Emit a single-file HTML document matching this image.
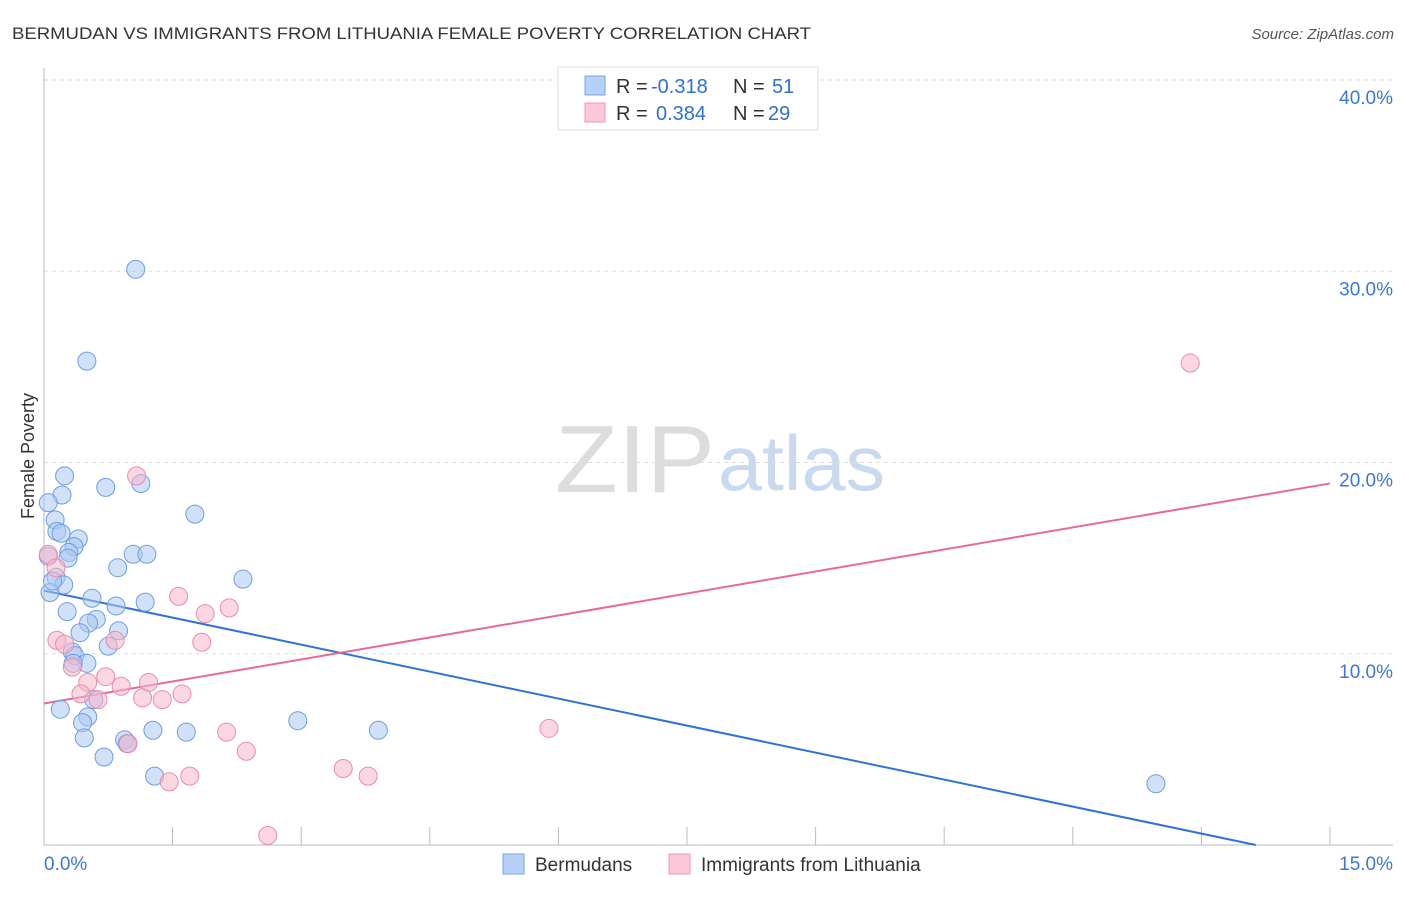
<!DOCTYPE html>
<html><head><meta charset="utf-8">
<style>
body{margin:0;background:#fff;font-family:"Liberation Sans",sans-serif;}
svg text{font-family:"Liberation Sans",sans-serif;}
</style></head>
<body>
<svg id="chart" width="1406" height="892" viewBox="0 0 1406 892" xmlns="http://www.w3.org/2000/svg">
<text x="12" y="39" font-size="17" fill="#333" textLength="799" lengthAdjust="spacingAndGlyphs">BERMUDAN VS IMMIGRANTS FROM LITHUANIA FEMALE POVERTY CORRELATION CHART</text>
<text x="1394" y="39" font-size="15" fill="#555" text-anchor="end" font-style="italic">Source: ZipAtlas.com</text>
<g>
<text x="555" y="492" font-size="96" fill="#ddd" font-family="Liberation Serif" textLength="160" lengthAdjust="spacingAndGlyphs">ZIP</text>
<text x="718" y="490" font-size="78" fill="#c9d9f0" textLength="167" lengthAdjust="spacingAndGlyphs">atlas</text>
</g>
<g id="grid"></g>
<g id="axes"></g>
<g id="lines"></g>
<g id="points"></g>
<text transform="translate(34,456) rotate(-90)" font-size="18" fill="#333" text-anchor="middle">Female Poverty</text>
<g>
<rect x="558" y="67" width="260" height="63" fill="#fff" stroke="#ddd"/>
<rect x="585" y="76" width="20" height="19" fill="#b7d0f5" stroke="#7aa6e6"/>
<rect x="585" y="103" width="20" height="19" fill="#fcc8d8" stroke="#ee9ab5"/>
<text x="616" y="93" font-size="20" fill="#333">R =</text>
<text x="651" y="93" font-size="20" fill="#2f6fd6">-0.318</text>
<text x="733" y="93" font-size="20" fill="#333">N =</text>
<text x="772" y="93" font-size="20" fill="#2f6fd6">51</text>
<text x="616" y="120" font-size="20" fill="#333">R =</text>
<text x="656" y="120" font-size="20" fill="#2f6fd6">0.384</text>
<text x="733" y="120" font-size="20" fill="#333">N =</text>
<text x="768" y="120" font-size="20" fill="#2f6fd6">29</text>
</g>
<g>
<rect x="503" y="854" width="21" height="20" fill="#b7d0f5" stroke="#7aa6e6"/>
<text x="535" y="871" font-size="19" fill="#333">Bermudans</text>
<rect x="669" y="854" width="21" height="20" fill="#fcc8d8" stroke="#ee9ab5"/>
<text x="701" y="871" font-size="19" fill="#333">Immigrants from Lithuania</text>
</g>
</svg>
<script>
const xTickVals=[0,1.5,3,4.5,6,7.5,9,10.5,12,13.5,15];
const yTickVals=[10,20,30,40];
const yTickLabels=["10.0%","20.0%","30.0%","40.0%"];
const xEndLabels=["0.0%","15.0%"];
const blueX=[1.07,0.50,0.24,0.21,0.72,1.13,0.05,1.76,0.13,0.15,0.40,0.35,0.29,0.28,1.04,1.20,0.05,0.86,0.14,0.23,2.32,0.07,0.56,0.84,1.18,0.27,0.61,0.52,0.87,0.42,0.75,0.33,0.36,0.50,0.34,0.58,0.19,0.51,0.45,2.96,3.90,1.27,1.66,0.47,0.94,0.97,0.70,1.29,12.97,0.10,0.20];
const blueY=[30.1,25.3,19.3,18.3,18.7,18.9,17.9,17.3,17.0,16.4,16.0,15.6,15.3,15.0,15.2,15.2,15.1,14.5,14.0,13.6,13.9,13.2,12.9,12.5,12.7,12.2,11.8,11.6,11.2,11.1,10.4,10.1,9.9,9.5,9.5,7.6,7.1,6.7,6.4,6.5,6.0,6.0,5.9,5.6,5.5,5.3,4.6,3.6,3.2,13.8,16.3];
const pinkX=[13.37,1.08,0.05,0.14,1.57,2.16,1.88,0.15,0.24,0.83,1.84,0.33,0.72,0.51,1.22,0.90,0.43,1.61,0.63,1.15,1.38,5.89,2.13,0.98,2.36,3.49,3.78,1.70,1.46,2.61];
const pinkY=[25.2,19.3,15.2,14.5,13.0,12.4,12.1,10.7,10.5,10.7,10.6,9.3,8.8,8.5,8.5,8.3,7.9,7.9,7.6,7.7,7.6,6.1,5.9,5.3,4.9,4.0,3.6,3.6,3.3,0.5];
const blueTrend=[13.3,-0.941];
const pinkTrend=[7.4,0.767];
const X0=44,X1=1330,Y0=845,Y40=80;
const sx=v=>X0+v/15*(X1-X0);
const sy=v=>Y0-v/40*(Y0-Y40);
const NS="http://www.w3.org/2000/svg";
function mk(tag,attrs,parent){const e=document.createElementNS(NS,tag);for(const k in attrs)e.setAttribute(k,attrs[k]);document.getElementById(parent).appendChild(e);return e;}
yTickVals.forEach((v,i)=>{
 const g=mk('line',{x1:X0,x2:1393,y1:sy(v),y2:sy(v),stroke:'#ddd','stroke-dasharray':'4,4'},'grid');
 
 
 const t=mk('text',{x:1393,y:sy(v)+24,'font-size':19,fill:'#3a78d8','text-anchor':'end'},'axes');
 t.textContent=yTickLabels[i];
 
 
});
let a=mk('line',{x1:X0,x2:X0,y1:68,y2:Y0,stroke:'#bbb'},'axes');


a=mk('line',{x1:X0,x2:1393,y1:Y0,y2:Y0,stroke:'#bbb'},'axes');


xTickVals.forEach(v=>{
 const t=mk('line',{x1:sx(v),x2:sx(v),y1:827,y2:Y0,stroke:'#bbb'},'axes');
 
 
});
let t=mk('text',{x:44,y:870,'font-size':19,fill:'#3a78d8'},'axes');t.textContent=xEndLabels[0];


t=mk('text',{x:1393,y:870,'font-size':19,fill:'#3a78d8','text-anchor':'end'},'axes');t.textContent=xEndLabels[1];


function pts(xs,ys,fill,stroke,name){
 xs.forEach((x,i)=>{
  const c=mk('circle',{cx:sx(x),cy:sy(ys[i]),r:9,fill:fill,'fill-opacity':0.55,stroke:stroke,'stroke-width':1},'points');
  
  
 });
}
pts(blueX,blueY,'#a9c8f2','#6d9fe2','bermudan-point');
pts(pinkX,pinkY,'#f7b6cb','#ea8cab','lithuania-point');
let bEnd=Math.min(15.73,-blueTrend[0]/blueTrend[1]);
let l=mk('line',{x1:sx(0),y1:sy(blueTrend[0]),x2:sx(bEnd),y2:sy(blueTrend[0]+blueTrend[1]*bEnd),stroke:'#2f73d6','stroke-width':2},'lines');


l=mk('line',{x1:sx(0),y1:sy(pinkTrend[0]),x2:sx(15),y2:sy(pinkTrend[0]+pinkTrend[1]*15),stroke:'#e56b97','stroke-width':2},'lines');


</script>
</body></html>
